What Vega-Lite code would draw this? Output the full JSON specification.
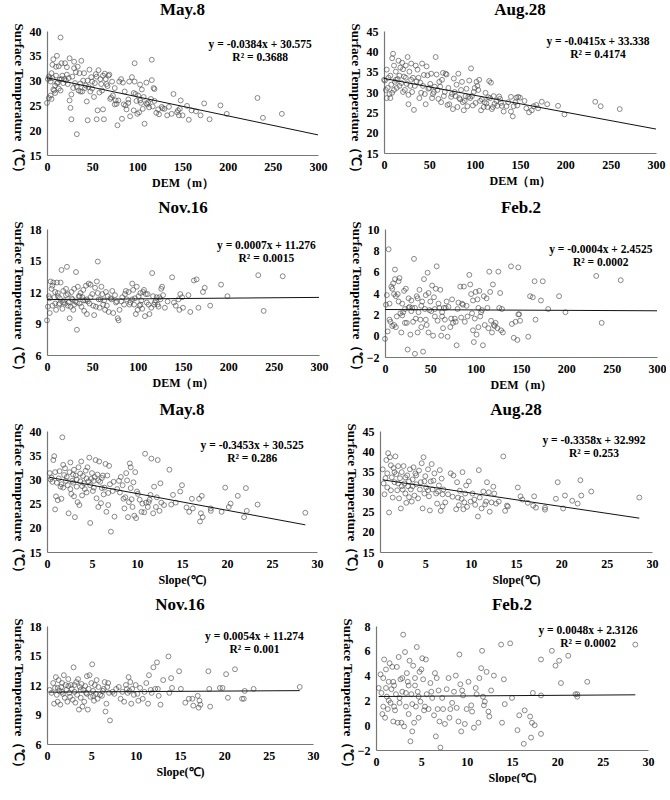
{
"$schema": "https://vega.github.io/schema/vega-lite/v6.json",
"padding": {"left": 11, "top": 1, "right": 0, "bottom": 0},
"spacing": 11,
"datasets": {
"p1": [{"x":15,"y":38.7},{"x":33,"y":19.2},{"x":0,"y":25.5},{"x":2,"y":26.5},{"x":5,"y":26.3},{"x":45,"y":22},{"x":27,"y":22.2},{"x":55,"y":22.2},{"x":63,"y":22.2},{"x":78,"y":21},{"x":83,"y":22.3},{"x":108,"y":21.3},{"x":97,"y":33.5},{"x":116,"y":34.2},{"x":116,"y":30.1},{"x":118,"y":28.5},{"x":119,"y":28.3},{"x":233,"y":26.5},{"x":239,"y":22.5},{"x":260,"y":23.3},{"x":192,"y":25},{"x":199,"y":23.3},{"x":180,"y":22.2},{"x":174,"y":25.4},{"x":170,"y":23},{"x":165,"y":23.8},{"x":160,"y":24},{"x":157,"y":22.1},{"x":155,"y":24.9},{"x":148,"y":26},{"x":146,"y":23},{"x":145,"y":24},{"x":144,"y":23.6},{"x":140,"y":27.3},{"x":138,"y":23.3},{"x":133,"y":23},{"x":128,"y":24.4},{"x":127,"y":24.7},{"x":124,"y":23.2},{"x":121,"y":23.5},{"x":119,"y":25.9},{"x":115,"y":26.3},{"x":113,"y":24.6},{"x":110,"y":25.4},{"x":106,"y":24.3},{"x":104,"y":25.5},{"x":102,"y":23.6},{"x":100,"y":23.3},{"x":101,"y":27},{"x":103,"y":29.2},{"x":98,"y":27.3},{"x":96,"y":27.5},{"x":94,"y":30.7},{"x":97,"y":29.8},{"x":92,"y":22.8},{"x":90,"y":26.2},{"x":88,"y":24.2},{"x":87,"y":25},{"x":86,"y":27.8},{"x":84,"y":29.6},{"x":82,"y":30.3},{"x":80,"y":29.8},{"x":79,"y":26},{"x":76,"y":26},{"x":75,"y":25.2},{"x":73,"y":27},{"x":70,"y":26.3},{"x":72,"y":29.8},{"x":68,"y":31},{"x":66,"y":29.3},{"x":64,"y":31.4},{"x":62,"y":31},{"x":60,"y":29.3},{"x":58,"y":27.6},{"x":57,"y":32.1},{"x":55,"y":30.8},{"x":53,"y":29.5},{"x":52,"y":26.7},{"x":50,"y":29.8},{"x":48,"y":27.8},{"x":47,"y":32.2},{"x":45,"y":30},{"x":44,"y":25.8},{"x":42,"y":28.5},{"x":40,"y":30},{"x":39,"y":27.8},{"x":38,"y":34},{"x":36,"y":31.5},{"x":35,"y":28},{"x":34,"y":32.8},{"x":32,"y":31.7},{"x":31,"y":29.5},{"x":30,"y":33.8},{"x":29,"y":28.5},{"x":27,"y":27.2},{"x":26,"y":24.5},{"x":25,"y":26},{"x":25,"y":34.5},{"x":24,"y":30.5},{"x":22,"y":32.7},{"x":21,"y":30},{"x":20,"y":33.5},{"x":18,"y":29.5},{"x":17,"y":31},{"x":16,"y":33.5},{"x":15,"y":28},{"x":14,"y":30.2},{"x":13,"y":32.9},{"x":12,"y":29.6},{"x":11,"y":35},{"x":10,"y":31},{"x":9,"y":27.5},{"x":8,"y":28},{"x":7,"y":34.3},{"x":6,"y":30.5},{"x":5,"y":31.5},{"x":4,"y":29.8},{"x":3,"y":30.5},{"x":2,"y":30.8},{"x":1,"y":30.3},{"x":7,"y":28.2},{"x":9,"y":29},{"x":11,"y":29.5},{"x":13,"y":28.4},{"x":19,"y":30.3},{"x":23,"y":29.3},{"x":28,"y":30.8},{"x":33,"y":28.7},{"x":37,"y":29.4},{"x":41,"y":31.5},{"x":46,"y":28.7},{"x":49,"y":30.7},{"x":54,"y":31.3},{"x":59,"y":30.3},{"x":61,"y":28},{"x":65,"y":30.3},{"x":67,"y":28.9},{"x":69,"y":31.2},{"x":71,"y":26.6},{"x":77,"y":25.3},{"x":56,"y":24},{"x":62,"y":24.2},{"x":43,"y":29},{"x":50,"y":28.4},{"x":37,"y":27.8},{"x":30,"y":32.5},{"x":22,"y":31.2},{"x":16,"y":30.3},{"x":10,"y":32.8},{"x":6,"y":33.2},{"x":4,"y":27},{"x":96,"y":24},{"x":105,"y":28.2},{"x":107,"y":26.7},{"x":111,"y":25.2},{"x":123,"y":24.2},{"x":130,"y":24.3},{"x":135,"y":24.7},{"x":150,"y":23},{"x":147,"y":24.3},{"x":112,"y":25.6},{"x":99,"y":25.9},{"x":85,"y":25.2},{"x":90,"y":25.5},{"x":117,"y":24.8},{"x":91,"y":29.8},{"x":103,"y":26},{"x":75,"y":28.5},{"x":110,"y":29.6}],
"p2": [{"x":233,"y":27.6},{"x":239,"y":26.5},{"x":260,"y":25.8},{"x":199,"y":24.5},{"x":192,"y":26.6},{"x":180,"y":27},{"x":174,"y":27.6},{"x":170,"y":26},{"x":165,"y":26.5},{"x":160,"y":25},{"x":157,"y":26},{"x":155,"y":27.8},{"x":148,"y":28.8},{"x":147,"y":26.7},{"x":145,"y":27.5},{"x":143,"y":26.5},{"x":142,"y":24},{"x":140,"y":25.2},{"x":140,"y":28.8},{"x":135,"y":26.5},{"x":132,"y":25.2},{"x":130,"y":26.6},{"x":128,"y":28.3},{"x":127,"y":28.9},{"x":124,"y":27.8},{"x":122,"y":27.1},{"x":120,"y":26.3},{"x":118,"y":32.3},{"x":116,"y":32.7},{"x":117,"y":28.5},{"x":115,"y":28.7},{"x":113,"y":27.2},{"x":112,"y":29.8},{"x":110,"y":26.3},{"x":107,"y":25.5},{"x":106,"y":27.8},{"x":105,"y":33},{"x":104,"y":30.5},{"x":103,"y":31.5},{"x":102,"y":32.5},{"x":101,"y":27.3},{"x":100,"y":31},{"x":99,"y":30},{"x":98,"y":26.7},{"x":97,"y":29},{"x":96,"y":35.8},{"x":95,"y":28.5},{"x":93,"y":28.8},{"x":92,"y":26.5},{"x":90,"y":29},{"x":88,"y":25.5},{"x":87,"y":27.5},{"x":85,"y":30.5},{"x":83,"y":28.5},{"x":82,"y":34.5},{"x":80,"y":31.8},{"x":79,"y":29},{"x":77,"y":33.3},{"x":76,"y":25.8},{"x":74,"y":28.8},{"x":72,"y":27},{"x":70,"y":26.8},{"x":68,"y":34.5},{"x":67,"y":30},{"x":65,"y":34.7},{"x":64,"y":33},{"x":63,"y":27.5},{"x":62,"y":31.3},{"x":60,"y":28.3},{"x":58,"y":34.3},{"x":57,"y":38.6},{"x":55,"y":30},{"x":53,"y":28.5},{"x":52,"y":34.5},{"x":50,"y":31},{"x":48,"y":34.1},{"x":47,"y":36.3},{"x":45,"y":29.5},{"x":43,"y":31.5},{"x":42,"y":37},{"x":40,"y":32.3},{"x":39,"y":28.5},{"x":37,"y":35.5},{"x":36,"y":32.6},{"x":35,"y":36.5},{"x":33,"y":25.6},{"x":32,"y":33.5},{"x":31,"y":30},{"x":30,"y":37},{"x":29,"y":31.5},{"x":28,"y":35},{"x":27,"y":27},{"x":26,"y":38.6},{"x":25,"y":32},{"x":24,"y":36.5},{"x":23,"y":30.5},{"x":22,"y":33.8},{"x":21,"y":35.6},{"x":20,"y":37.2},{"x":19,"y":32.2},{"x":18,"y":36},{"x":17,"y":34},{"x":16,"y":37.7},{"x":15,"y":33.2},{"x":14,"y":31},{"x":13,"y":35},{"x":12,"y":32.5},{"x":11,"y":36.5},{"x":10,"y":39.4},{"x":9,"y":38.3},{"x":8,"y":31.8},{"x":7,"y":34},{"x":6,"y":29.5},{"x":5,"y":33.5},{"x":4,"y":31},{"x":3,"y":35.5},{"x":2,"y":30.5},{"x":1,"y":32.8},{"x":0,"y":33},{"x":3,"y":28.5},{"x":7,"y":28.5},{"x":9,"y":29.8},{"x":11,"y":30.5},{"x":13,"y":33},{"x":17,"y":31.5},{"x":21,"y":30},{"x":24,"y":33.5},{"x":27,"y":29.3},{"x":30,"y":33},{"x":34,"y":31.5},{"x":38,"y":33.5},{"x":41,"y":29.8},{"x":44,"y":34.2},{"x":46,"y":27},{"x":49,"y":30.8},{"x":51,"y":32},{"x":54,"y":29.5},{"x":56,"y":31.3},{"x":59,"y":30.5},{"x":61,"y":32.5},{"x":66,"y":29},{"x":69,"y":34.3},{"x":71,"y":31},{"x":75,"y":29.5},{"x":78,"y":30},{"x":81,"y":26.3},{"x":84,"y":28.2},{"x":86,"y":32.5},{"x":89,"y":27.8},{"x":91,"y":30.8},{"x":94,"y":32.8},{"x":108,"y":28.2},{"x":111,"y":27.5},{"x":114,"y":26.3},{"x":119,"y":25.8},{"x":121,"y":29},{"x":125,"y":26.6},{"x":129,"y":27.3},{"x":137,"y":27.5},{"x":146,"y":28.6},{"x":150,"y":28.6},{"x":163,"y":25.5},{"x":168,"y":26.8}],
"p3": [{"x":0,"y":9.3},{"x":1,"y":10.6},{"x":2,"y":11.6},{"x":3,"y":10},{"x":4,"y":13},{"x":5,"y":12.3},{"x":6,"y":10.7},{"x":7,"y":12.9},{"x":8,"y":11.5},{"x":9,"y":12},{"x":10,"y":10.3},{"x":11,"y":12.9},{"x":12,"y":11.6},{"x":13,"y":10.8},{"x":14,"y":11.4},{"x":15,"y":12.9},{"x":16,"y":14.1},{"x":17,"y":10.4},{"x":18,"y":12.1},{"x":19,"y":11.2},{"x":20,"y":10.9},{"x":21,"y":11.7},{"x":22,"y":14.4},{"x":23,"y":11.8},{"x":24,"y":11},{"x":25,"y":9.5},{"x":26,"y":10.6},{"x":27,"y":12},{"x":28,"y":11.3},{"x":29,"y":10.3},{"x":30,"y":10.8},{"x":31,"y":11.1},{"x":32,"y":13.9},{"x":33,"y":8.4},{"x":34,"y":12.5},{"x":35,"y":11.6},{"x":36,"y":10.9},{"x":37,"y":11.9},{"x":38,"y":10.6},{"x":39,"y":11.5},{"x":40,"y":12.2},{"x":41,"y":10.2},{"x":42,"y":11.2},{"x":43,"y":12.6},{"x":44,"y":9.9},{"x":45,"y":11.1},{"x":46,"y":12.8},{"x":47,"y":10.9},{"x":48,"y":11.5},{"x":50,"y":11.8},{"x":52,"y":9.8},{"x":53,"y":12.4},{"x":54,"y":10.6},{"x":55,"y":13},{"x":56,"y":14.9},{"x":57,"y":11.3},{"x":58,"y":10.5},{"x":60,"y":12.5},{"x":61,"y":11.8},{"x":62,"y":10.8},{"x":63,"y":11.2},{"x":64,"y":10.3},{"x":65,"y":12},{"x":67,"y":11.6},{"x":68,"y":10.1},{"x":70,"y":11.4},{"x":72,"y":12.1},{"x":73,"y":10},{"x":75,"y":11.7},{"x":76,"y":11},{"x":78,"y":9.5},{"x":79,"y":9.3},{"x":80,"y":10.3},{"x":82,"y":11.1},{"x":83,"y":11.5},{"x":85,"y":10.8},{"x":87,"y":12.1},{"x":88,"y":11.3},{"x":90,"y":12},{"x":92,"y":11},{"x":94,"y":12.8},{"x":95,"y":12.2},{"x":96,"y":10.8},{"x":97,"y":11.4},{"x":98,"y":9.9},{"x":99,"y":12.5},{"x":100,"y":10.3},{"x":101,"y":11.6},{"x":102,"y":10.7},{"x":103,"y":10.8},{"x":104,"y":11.2},{"x":105,"y":10.4},{"x":106,"y":12},{"x":107,"y":12.2},{"x":108,"y":9.7},{"x":109,"y":11.8},{"x":110,"y":11},{"x":112,"y":10.8},{"x":113,"y":9.9},{"x":115,"y":10.5},{"x":116,"y":13.8},{"x":117,"y":11.6},{"x":118,"y":10.8},{"x":119,"y":11},{"x":120,"y":11.2},{"x":122,"y":10.8},{"x":123,"y":10.6},{"x":125,"y":11.3},{"x":126,"y":12.3},{"x":127,"y":12.5},{"x":128,"y":11.7},{"x":130,"y":10.5},{"x":133,"y":11.1},{"x":138,"y":13.4},{"x":140,"y":11},{"x":142,"y":10.7},{"x":145,"y":11.3},{"x":146,"y":10.3},{"x":147,"y":11.8},{"x":149,"y":11.5},{"x":150,"y":10.5},{"x":156,"y":11.7},{"x":158,"y":10.1},{"x":162,"y":13.1},{"x":165,"y":13.2},{"x":167,"y":10.5},{"x":172,"y":12},{"x":174,"y":12.4},{"x":180,"y":10.7},{"x":192,"y":12.7},{"x":199,"y":11.6},{"x":233,"y":13.6},{"x":239,"y":10.2},{"x":260,"y":13.5},{"x":3,"y":11.4},{"x":6,"y":12.6},{"x":9,"y":10.9},{"x":12,"y":11.9},{"x":14,"y":10.9},{"x":18,"y":11},{"x":21,"y":12.3},{"x":23,"y":10.7},{"x":27,"y":11.4},{"x":30,"y":12.3},{"x":33,"y":11},{"x":36,"y":11.6},{"x":40,"y":11.2},{"x":44,"y":11.3},{"x":48,"y":12.7},{"x":51,"y":10.7},{"x":56,"y":11.9},{"x":59,"y":11.3},{"x":66,"y":10.7},{"x":71,"y":11.3},{"x":77,"y":11.1},{"x":86,"y":11.8},{"x":91,"y":10.8},{"x":94,"y":11.3},{"x":103,"y":11.9},{"x":111,"y":11.8},{"x":121,"y":11.5},{"x":124,"y":11.5}],
"p4": [{"x":0,"y":-0.3},{"x":1,"y":2.9},{"x":2,"y":3.8},{"x":3,"y":0.4},{"x":4,"y":8.1},{"x":5,"y":3},{"x":6,"y":1.3},{"x":7,"y":4.6},{"x":8,"y":0.9},{"x":9,"y":4.9},{"x":10,"y":3.9},{"x":11,"y":5.3},{"x":11,"y":6.2},{"x":12,"y":0.8},{"x":13,"y":1.8},{"x":14,"y":3.9},{"x":15,"y":5.1},{"x":16,"y":5.4},{"x":17,"y":2.1},{"x":18,"y":0.3},{"x":19,"y":3},{"x":20,"y":2.2},{"x":21,"y":4.2},{"x":22,"y":2.5},{"x":23,"y":4.4},{"x":24,"y":1.2},{"x":25,"y":-1.3},{"x":26,"y":3.5},{"x":27,"y":2.7},{"x":28,"y":0.1},{"x":29,"y":3.3},{"x":30,"y":2.6},{"x":31,"y":1.3},{"x":32,"y":7.2},{"x":33,"y":-1.7},{"x":34,"y":1.6},{"x":35,"y":3.7},{"x":36,"y":0.3},{"x":37,"y":2.2},{"x":38,"y":4.3},{"x":39,"y":1.5},{"x":40,"y":0.8},{"x":41,"y":3.2},{"x":42,"y":-1.5},{"x":43,"y":5.3},{"x":44,"y":2.5},{"x":45,"y":3.8},{"x":46,"y":1},{"x":47,"y":5.9},{"x":48,"y":0.3},{"x":49,"y":2.4},{"x":50,"y":3.2},{"x":52,"y":4.7},{"x":53,"y":0},{"x":54,"y":3.6},{"x":55,"y":1.8},{"x":56,"y":4.4},{"x":57,"y":6.5},{"x":58,"y":1.4},{"x":60,"y":2.6},{"x":61,"y":4.3},{"x":62,"y":0},{"x":63,"y":2.2},{"x":64,"y":0.7},{"x":65,"y":2.6},{"x":66,"y":1.5},{"x":68,"y":3.2},{"x":69,"y":-0.1},{"x":70,"y":2.7},{"x":72,"y":0.8},{"x":74,"y":3.4},{"x":75,"y":1.2},{"x":77,"y":1.6},{"x":79,"y":-0.9},{"x":80,"y":2.5},{"x":81,"y":3.1},{"x":83,"y":4.6},{"x":84,"y":1.7},{"x":86,"y":2.9},{"x":87,"y":4.6},{"x":88,"y":1.3},{"x":90,"y":2.8},{"x":93,"y":5.7},{"x":94,"y":4.8},{"x":95,"y":3.9},{"x":96,"y":2.1},{"x":97,"y":0.5},{"x":98,"y":-0.6},{"x":99,"y":1.6},{"x":100,"y":4.1},{"x":101,"y":0.1},{"x":102,"y":3.4},{"x":103,"y":2.6},{"x":104,"y":4.2},{"x":105,"y":1.8},{"x":107,"y":2.4},{"x":108,"y":-0.9},{"x":109,"y":3.7},{"x":110,"y":1},{"x":112,"y":3.5},{"x":114,"y":0.7},{"x":115,"y":6},{"x":116,"y":4.1},{"x":117,"y":1.4},{"x":118,"y":0.3},{"x":119,"y":4.8},{"x":120,"y":1},{"x":121,"y":0.9},{"x":122,"y":1.2},{"x":125,"y":6},{"x":126,"y":2.6},{"x":127,"y":4},{"x":128,"y":0.5},{"x":130,"y":0.3},{"x":139,"y":6.5},{"x":140,"y":1.1},{"x":142,"y":-0.2},{"x":144,"y":1.3},{"x":146,"y":-0.4},{"x":147,"y":2},{"x":147,"y":6.4},{"x":148,"y":2},{"x":149,"y":1.4},{"x":158,"y":-0.1},{"x":160,"y":3.7},{"x":163,"y":3.6},{"x":165,"y":5.1},{"x":166,"y":1.5},{"x":172,"y":3.3},{"x":174,"y":5.1},{"x":180,"y":2.5},{"x":192,"y":3.7},{"x":199,"y":2.2},{"x":233,"y":5.6},{"x":239,"y":1.2},{"x":260,"y":5.2},{"x":5,"y":1.5},{"x":8,"y":4.4},{"x":10,"y":1},{"x":12,"y":3.7},{"x":15,"y":3.2},{"x":19,"y":1.9},{"x":22,"y":1.2},{"x":26,"y":2.6},{"x":29,"y":2.3},{"x":33,"y":2.6},{"x":36,"y":3.5},{"x":40,"y":2.8},{"x":45,"y":1.5},{"x":48,"y":4},{"x":51,"y":2.3},{"x":55,"y":2.5},{"x":59,"y":3},{"x":63,"y":1.8},{"x":67,"y":2.6},{"x":73,"y":1.6},{"x":78,"y":1.3},{"x":85,"y":3},{"x":91,"y":1.8},{"x":97,"y":3.3},{"x":103,"y":0.8},{"x":106,"y":2.2},{"x":113,"y":2.6},{"x":124,"y":0.7},{"x":129,"y":2.5}],
"p5": [{"x":0.3,"y":31.3},{"x":0.5,"y":30.4},{"x":0.7,"y":34},{"x":0.8,"y":34.8},{"x":0.9,"y":23.8},{"x":1,"y":26.5},{"x":1.1,"y":29.3},{"x":1.2,"y":25.7},{"x":1.4,"y":31.7},{"x":1.5,"y":28.5},{"x":1.6,"y":26},{"x":1.7,"y":38.7},{"x":1.8,"y":33},{"x":1.9,"y":30.9},{"x":2,"y":32.3},{"x":2.1,"y":29.7},{"x":2.3,"y":28.8},{"x":2.4,"y":23},{"x":2.5,"y":31.5},{"x":2.6,"y":33.5},{"x":2.7,"y":27},{"x":2.8,"y":29.7},{"x":2.9,"y":31},{"x":3,"y":26.5},{"x":3.1,"y":22.2},{"x":3.2,"y":30.8},{"x":3.3,"y":28.5},{"x":3.4,"y":25.3},{"x":3.5,"y":32.5},{"x":3.6,"y":24.7},{"x":3.7,"y":29.6},{"x":3.8,"y":33.7},{"x":3.9,"y":26.7},{"x":4,"y":30.7},{"x":4.2,"y":28},{"x":4.3,"y":31.8},{"x":4.4,"y":27.3},{"x":4.5,"y":32.5},{"x":4.6,"y":29.6},{"x":4.7,"y":34.5},{"x":4.8,"y":21},{"x":4.9,"y":30.1},{"x":5,"y":31.3},{"x":5.1,"y":27.6},{"x":5.2,"y":29.7},{"x":5.4,"y":34},{"x":5.5,"y":26.1},{"x":5.6,"y":31},{"x":5.7,"y":24.3},{"x":5.8,"y":33.7},{"x":5.9,"y":29.5},{"x":6,"y":25.1},{"x":6.1,"y":28.2},{"x":6.2,"y":30.8},{"x":6.3,"y":26.9},{"x":6.5,"y":33.2},{"x":6.6,"y":23.3},{"x":6.7,"y":30.8},{"x":6.8,"y":24.7},{"x":6.9,"y":32.8},{"x":7,"y":29},{"x":7.1,"y":19.2},{"x":7.3,"y":27.6},{"x":7.5,"y":22.3},{"x":7.8,"y":28},{"x":8,"y":29.7},{"x":8.2,"y":30.5},{"x":8.4,"y":28.8},{"x":8.6,"y":24},{"x":8.7,"y":26.3},{"x":8.8,"y":31.3},{"x":8.9,"y":29.8},{"x":9,"y":22.2},{"x":9.1,"y":25.3},{"x":9.2,"y":33.3},{"x":9.3,"y":32.5},{"x":9.4,"y":25.9},{"x":9.5,"y":24.3},{"x":9.6,"y":29.4},{"x":9.7,"y":22.5},{"x":9.8,"y":31.5},{"x":9.9,"y":22},{"x":10,"y":27.5},{"x":10.3,"y":25.8},{"x":10.5,"y":23.3},{"x":10.8,"y":23.2},{"x":10.9,"y":35.3},{"x":11,"y":25.2},{"x":11.2,"y":24.3},{"x":11.4,"y":25.8},{"x":11.5,"y":26.8},{"x":11.6,"y":34.3},{"x":11.8,"y":23},{"x":11.9,"y":28.5},{"x":12.1,"y":24.3},{"x":12.3,"y":34},{"x":12.5,"y":23.5},{"x":12.6,"y":29.2},{"x":12.7,"y":25.2},{"x":13,"y":24.7},{"x":13.6,"y":32},{"x":13.8,"y":24.8},{"x":14,"y":26.8},{"x":14.3,"y":25.2},{"x":14.8,"y":27.5},{"x":15,"y":28.8},{"x":15.5,"y":24.2},{"x":15.8,"y":23.3},{"x":16.1,"y":26},{"x":16.2,"y":24},{"x":16.9,"y":26},{"x":17,"y":21.3},{"x":17.1,"y":23},{"x":17.2,"y":26.6},{"x":17.3,"y":22.2},{"x":18.2,"y":24},{"x":18.2,"y":23.5},{"x":19.4,"y":23.3},{"x":19.8,"y":28.3},{"x":20.2,"y":24.3},{"x":20.4,"y":25},{"x":21.2,"y":26.6},{"x":21.9,"y":22.2},{"x":22.1,"y":28.2},{"x":22.2,"y":23.5},{"x":23.4,"y":24.8},{"x":28.7,"y":23.1},{"x":0.6,"y":29.5},{"x":0.9,"y":31.5},{"x":1.3,"y":30.2},{"x":1.6,"y":29},{"x":2.2,"y":30.5},{"x":2.6,"y":28},{"x":3,"y":32},{"x":3.3,"y":30},{"x":3.7,"y":31.2},{"x":4.1,"y":29.2},{"x":4.4,"y":30.2},{"x":4.8,"y":28.8},{"x":5.3,"y":30.5},{"x":5.7,"y":29.8},{"x":6.1,"y":30.3},{"x":6.4,"y":28.3},{"x":7.4,"y":29.5},{"x":8.1,"y":27.3},{"x":8.5,"y":26},{"x":9.3,"y":28.2},{"x":10.1,"y":27},{"x":10.6,"y":25},{"x":11.3,"y":25.3},{"x":12.2,"y":26.3},{"x":0.4,"y":30},{"x":1.8,"y":28.3},{"x":2.9,"y":29.3},{"x":3.9,"y":28.6},{"x":5.2,"y":28.3},{"x":6.8,"y":27.2}],
"p6": [{"x":0.3,"y":35.5},{"x":0.5,"y":29.3},{"x":0.6,"y":33.3},{"x":0.7,"y":37.8},{"x":0.8,"y":31},{"x":0.9,"y":39.5},{"x":1,"y":24.8},{"x":1.1,"y":38.5},{"x":1.2,"y":30.3},{"x":1.3,"y":33.5},{"x":1.4,"y":28.5},{"x":1.5,"y":35.8},{"x":1.6,"y":32.3},{"x":1.7,"y":38.7},{"x":1.8,"y":34.3},{"x":1.9,"y":30.3},{"x":2,"y":36.3},{"x":2.1,"y":28.3},{"x":2.2,"y":33.3},{"x":2.3,"y":25.8},{"x":2.4,"y":34.8},{"x":2.5,"y":30.5},{"x":2.6,"y":36.3},{"x":2.7,"y":32},{"x":2.8,"y":29.5},{"x":2.9,"y":27.2},{"x":3,"y":34},{"x":3.1,"y":31.3},{"x":3.2,"y":28.6},{"x":3.3,"y":35.5},{"x":3.4,"y":30.5},{"x":3.5,"y":27.5},{"x":3.6,"y":33},{"x":3.7,"y":36},{"x":3.8,"y":29},{"x":3.9,"y":34.5},{"x":4,"y":31.8},{"x":4.2,"y":28.3},{"x":4.3,"y":35.2},{"x":4.5,"y":32.3},{"x":4.6,"y":37},{"x":4.7,"y":25.8},{"x":4.8,"y":38.5},{"x":4.9,"y":29.5},{"x":5,"y":33.8},{"x":5.1,"y":31},{"x":5.3,"y":35.5},{"x":5.4,"y":28.8},{"x":5.5,"y":25.3},{"x":5.6,"y":32.5},{"x":5.7,"y":36.8},{"x":5.8,"y":30.5},{"x":6,"y":34.5},{"x":6.2,"y":29.5},{"x":6.3,"y":27},{"x":6.5,"y":31.5},{"x":6.6,"y":35.3},{"x":6.7,"y":25.2},{"x":6.8,"y":33.2},{"x":6.9,"y":26.3},{"x":7,"y":30.5},{"x":7.2,"y":27.3},{"x":7.5,"y":29.3},{"x":7.8,"y":34.5},{"x":8,"y":28.7},{"x":8.1,"y":34},{"x":8.4,"y":25.6},{"x":8.5,"y":32.3},{"x":8.7,"y":26.6},{"x":8.8,"y":30.2},{"x":9,"y":28.2},{"x":9.1,"y":34.8},{"x":9.2,"y":25.6},{"x":9.4,"y":29.5},{"x":9.5,"y":31.5},{"x":9.6,"y":26.2},{"x":9.8,"y":32.5},{"x":10,"y":27.5},{"x":10.2,"y":29.5},{"x":10.5,"y":26.7},{"x":10.8,"y":23.8},{"x":10.9,"y":35.3},{"x":11,"y":28.5},{"x":11.2,"y":25.8},{"x":11.4,"y":30},{"x":11.6,"y":26.8},{"x":11.8,"y":32.3},{"x":12,"y":29.8},{"x":12.1,"y":25},{"x":12.3,"y":27.3},{"x":12.5,"y":31.2},{"x":12.6,"y":29.5},{"x":12.8,"y":27},{"x":13.6,"y":38.7},{"x":13.8,"y":25.2},{"x":14,"y":26.5},{"x":15.2,"y":31},{"x":15.5,"y":28.8},{"x":15.7,"y":28},{"x":16.3,"y":27.2},{"x":16.9,"y":26.5},{"x":17,"y":28.8},{"x":17.2,"y":26},{"x":18.2,"y":25.5},{"x":18.2,"y":26},{"x":19.4,"y":28.2},{"x":19.6,"y":32.3},{"x":20.2,"y":25.8},{"x":20.4,"y":29},{"x":21.2,"y":27.7},{"x":21.8,"y":27},{"x":22.1,"y":32.8},{"x":22.2,"y":29},{"x":23.3,"y":30},{"x":28.6,"y":28.5},{"x":0.4,"y":32},{"x":0.8,"y":34.5},{"x":1.2,"y":36.5},{"x":1.6,"y":34.8},{"x":2,"y":32},{"x":2.4,"y":31.3},{"x":2.8,"y":33.5},{"x":3.2,"y":32.5},{"x":3.6,"y":31.3},{"x":4,"y":34},{"x":4.4,"y":30.5},{"x":4.9,"y":32.5},{"x":5.3,"y":30.3},{"x":5.9,"y":32.7},{"x":6.4,"y":30},{"x":6.9,"y":29.3},{"x":8.6,"y":28.5},{"x":9.3,"y":27.3},{"x":10.4,"y":28},{"x":11.7,"y":27.5},{"x":13.1,"y":27.5},{"x":14.1,"y":26.3}],
"p7": [{"x":0.3,"y":11.5},{"x":0.5,"y":11.2},{"x":0.7,"y":12.2},{"x":0.8,"y":10.1},{"x":0.9,"y":11.7},{"x":1,"y":12.8},{"x":1.1,"y":11},{"x":1.2,"y":10.3},{"x":1.3,"y":12.5},{"x":1.4,"y":11.4},{"x":1.5,"y":10},{"x":1.6,"y":11.8},{"x":1.7,"y":12.2},{"x":1.8,"y":11.1},{"x":1.9,"y":13},{"x":2,"y":10.7},{"x":2.1,"y":12},{"x":2.2,"y":11.5},{"x":2.3,"y":10.3},{"x":2.4,"y":12.6},{"x":2.5,"y":11.2},{"x":2.6,"y":10.8},{"x":2.7,"y":12},{"x":2.8,"y":11.6},{"x":2.9,"y":10.5},{"x":3,"y":13.8},{"x":3.1,"y":11.3},{"x":3.2,"y":10.2},{"x":3.3,"y":12.3},{"x":3.4,"y":11},{"x":3.5,"y":12.6},{"x":3.6,"y":9.5},{"x":3.7,"y":11.8},{"x":3.8,"y":10.7},{"x":3.9,"y":12.1},{"x":4,"y":9.8},{"x":4.1,"y":11.5},{"x":4.2,"y":10.3},{"x":4.3,"y":11.9},{"x":4.4,"y":11.2},{"x":4.5,"y":12.9},{"x":4.6,"y":9.5},{"x":4.7,"y":11.6},{"x":4.8,"y":13},{"x":4.9,"y":10.8},{"x":5,"y":12.2},{"x":5.1,"y":14.1},{"x":5.2,"y":11.4},{"x":5.3,"y":10.4},{"x":5.4,"y":12},{"x":5.5,"y":11.1},{"x":5.6,"y":12.5},{"x":5.7,"y":10.6},{"x":5.8,"y":11.8},{"x":6,"y":11},{"x":6.2,"y":10.9},{"x":6.4,"y":11.6},{"x":6.5,"y":12.3},{"x":6.6,"y":9.3},{"x":6.7,"y":10.1},{"x":6.8,"y":11.8},{"x":6.9,"y":12.2},{"x":7,"y":11.2},{"x":7.1,"y":8.4},{"x":7.4,"y":11.3},{"x":7.8,"y":11.6},{"x":8.1,"y":11.8},{"x":8.3,"y":10.6},{"x":8.5,"y":11.3},{"x":8.7,"y":10.3},{"x":8.9,"y":12},{"x":9,"y":11.6},{"x":9.1,"y":11.2},{"x":9.2,"y":12.8},{"x":9.4,"y":12.3},{"x":9.5,"y":10.1},{"x":9.6,"y":11.6},{"x":9.8,"y":11},{"x":10,"y":12},{"x":10.3,"y":10.4},{"x":10.5,"y":11.7},{"x":10.8,"y":10.6},{"x":11,"y":11.3},{"x":11.2,"y":12.2},{"x":11.4,"y":10.1},{"x":11.5,"y":13},{"x":11.7,"y":11.5},{"x":12,"y":13.8},{"x":12.2,"y":11.6},{"x":12.4,"y":14.3},{"x":12.6,"y":10.9},{"x":12.8,"y":10},{"x":13.1,"y":12.5},{"x":13.7,"y":14.9},{"x":13.8,"y":11.2},{"x":14,"y":12.7},{"x":14.1,"y":11.7},{"x":14.9,"y":13.4},{"x":15.1,"y":11.6},{"x":15.6,"y":10.2},{"x":16,"y":10.6},{"x":16.4,"y":10.6},{"x":16.5,"y":9.9},{"x":17,"y":10.9},{"x":17.1,"y":9.7},{"x":17.2,"y":10.4},{"x":17.3,"y":10},{"x":18.2,"y":13.4},{"x":18.3,"y":11.6},{"x":18.4,"y":9.8},{"x":19.5,"y":11.7},{"x":19.8,"y":11.7},{"x":20.2,"y":13.1},{"x":20.4,"y":10.7},{"x":21.2,"y":13.6},{"x":22,"y":10.6},{"x":22.2,"y":10.6},{"x":22.3,"y":11.4},{"x":23.3,"y":11.6},{"x":28.5,"y":11.8},{"x":1.2,"y":11.7},{"x":1.7,"y":11.3},{"x":2.4,"y":11.9},{"x":3.1,"y":12},{"x":3.8,"y":11.5},{"x":4.5,"y":11.1},{"x":5.2,"y":10.9},{"x":6.3,"y":11.4},{"x":7.6,"y":11.1},{"x":9.3,"y":11.4},{"x":10.2,"y":11.1},{"x":11.8,"y":11.2},{"x":12.5,"y":11.6}],
"p8": [{"x":0.3,"y":3},{"x":0.5,"y":4.1},{"x":0.6,"y":2.6},{"x":0.7,"y":0.9},{"x":0.8,"y":3.8},{"x":0.9,"y":5.3},{"x":1,"y":0.6},{"x":1.1,"y":4.5},{"x":1.2,"y":2.3},{"x":1.3,"y":1.3},{"x":1.4,"y":3.5},{"x":1.5,"y":5},{"x":1.6,"y":1.8},{"x":1.7,"y":2.9},{"x":1.8,"y":4.7},{"x":1.9,"y":0.3},{"x":2,"y":3.2},{"x":2.1,"y":1.2},{"x":2.2,"y":2.5},{"x":2.3,"y":4.7},{"x":2.4,"y":0.2},{"x":2.5,"y":5.5},{"x":2.6,"y":1.8},{"x":2.7,"y":3.7},{"x":2.8,"y":0.2},{"x":2.9,"y":2.7},{"x":3,"y":7.3},{"x":3.1,"y":-0.1},{"x":3.2,"y":5.9},{"x":3.3,"y":1.5},{"x":3.4,"y":4.2},{"x":3.5,"y":3.5},{"x":3.6,"y":0.9},{"x":3.7,"y":5.2},{"x":3.8,"y":-1.3},{"x":3.9,"y":2.5},{"x":4,"y":-0.5},{"x":4.1,"y":4.8},{"x":4.2,"y":0.2},{"x":4.3,"y":3.2},{"x":4.4,"y":1.5},{"x":4.5,"y":6.3},{"x":4.6,"y":2.7},{"x":4.7,"y":0.6},{"x":4.8,"y":4.3},{"x":4.9,"y":1.9},{"x":5,"y":4.5},{"x":5.1,"y":5.4},{"x":5.2,"y":3.7},{"x":5.3,"y":1.2},{"x":5.5,"y":5.3},{"x":5.6,"y":2.5},{"x":5.8,"y":1.3},{"x":6,"y":3.4},{"x":6.2,"y":2.2},{"x":6.4,"y":0.8},{"x":6.5,"y":4.2},{"x":6.6,"y":-0.9},{"x":6.7,"y":3.8},{"x":6.8,"y":1.3},{"x":6.9,"y":2.8},{"x":7,"y":0.3},{"x":7.1,"y":-1.8},{"x":7.4,"y":1.3},{"x":7.6,"y":0.1},{"x":7.8,"y":2.9},{"x":8,"y":3.8},{"x":8.1,"y":0.6},{"x":8.4,"y":1.8},{"x":8.6,"y":2.7},{"x":8.8,"y":4},{"x":8.9,"y":1.4},{"x":9.1,"y":0.3},{"x":9.2,"y":5.7},{"x":9.3,"y":3.3},{"x":9.4,"y":-0.5},{"x":9.6,"y":2.4},{"x":9.8,"y":0.1},{"x":10,"y":1.3},{"x":10.2,"y":3.5},{"x":10.5,"y":1.6},{"x":10.8,"y":-0.2},{"x":11,"y":3},{"x":11.1,"y":2.5},{"x":11.3,"y":0.2},{"x":11.4,"y":3.8},{"x":11.6,"y":4.6},{"x":11.7,"y":6},{"x":11.8,"y":2.3},{"x":12,"y":1.9},{"x":12.2,"y":4.3},{"x":12.4,"y":1.1},{"x":12.5,"y":0.7},{"x":12.7,"y":2.8},{"x":13,"y":4},{"x":13.8,"y":6.5},{"x":13.9,"y":0.2},{"x":14.1,"y":3.7},{"x":14.2,"y":1.7},{"x":14.8,"y":6.6},{"x":15,"y":2.2},{"x":15.6,"y":-0.4},{"x":15.8,"y":0.8},{"x":16.3,"y":-1.5},{"x":16.4,"y":1.2},{"x":17,"y":0.7},{"x":17.1,"y":-1},{"x":17.2,"y":0.2},{"x":17.3,"y":2.6},{"x":17.5,"y":0},{"x":18.2,"y":5.3},{"x":18.2,"y":-0.7},{"x":18.2,"y":2.4},{"x":19.4,"y":6},{"x":19.8,"y":4.8},{"x":20.2,"y":5.2},{"x":20.4,"y":3.4},{"x":21.2,"y":5.6},{"x":22,"y":2.5},{"x":22.2,"y":2.5},{"x":22.2,"y":2.3},{"x":23.3,"y":3.5},{"x":28.6,"y":6.5},{"x":0.8,"y":1.5},{"x":1.4,"y":2},{"x":2,"y":1.5},{"x":2.6,"y":2.2},{"x":3.3,"y":2.6},{"x":4,"y":1.7},{"x":4.7,"y":2.3},{"x":5.4,"y":1.5},{"x":6.1,"y":2.7},{"x":7.3,"y":2.2},{"x":8.2,"y":1.3},{"x":9.5,"y":2.8},{"x":10.6,"y":1.1},{"x":11.9,"y":1.6},{"x":1.1,"y":3},{"x":1.9,"y":3.5},{"x":2.9,"y":3.8},{"x":3.6,"y":3.2},{"x":4.3,"y":3.8}],
"l1": [{"x":0,"y":30.575},{"x":300,"y":19.055}],
"l2": [{"x":0,"y":33.338},{"x":300,"y":20.888}],
"l3": [{"x":0,"y":11.276},{"x":300,"y":11.486}],
"l4": [{"x":0,"y":2.4525},{"x":300,"y":2.3325}],
"l5": [{"x":0.3,"y":30.421},{"x":28.7,"y":20.615}],
"l6": [{"x":0.3,"y":32.891},{"x":28.6,"y":23.388}],
"l7": [{"x":0.3,"y":11.276},{"x":28.5,"y":11.428}],
"l8": [{"x":0.3,"y":2.314},{"x":28.6,"y":2.450}]
},
"vconcat": [
{"spacing": 21, "hconcat": [
{"title": "May.8", "width": 271, "height": 124, "layer": [
 {"data": {"name": "p1"}, "mark": {"type": "point", "shape": "circle", "size": 24, "strokeWidth": 0.9, "color": "#444", "filled": false},
  "encoding": {"x": {"field": "x", "type": "quantitative", "scale": {"domain": [0, 300], "nice": false}, "axis": {"values": [0,50,100,150,200,250,300], "tickCount": 20, "format": "d", "title": "DEM（m）"}},
               "y": {"field": "y", "type": "quantitative", "scale": {"domain": [15, 40], "nice": false, "zero": false}, "axis": {"values": [15,20,25,30,35,40], "tickCount": 20, "format": "d", "title": "Surface Temperature（℃）"}}}},
 {"data": {"name": "l1"}, "mark": {"type": "line", "color": "#111", "strokeWidth": 1}, "encoding": {"x": {"field": "x", "type": "quantitative"}, "y": {"field": "y", "type": "quantitative"}}},
 {"data": {"values": [{}]}, "mark": {"type": "text", "text": ["y = -0.0384x + 30.575", "R² = 0.3688"], "align": "center", "baseline": "top", "lineHeight": 13, "fontSize": 11.5, "fontWeight": "bold", "font": "Liberation Serif", "color": "black"},
  "encoding": {"x": {"datum": 236, "type": "quantitative"}, "y": {"datum": 38.4, "type": "quantitative"}}}
]},
{"title": "Aug.28", "width": 272, "height": 122, "layer": [
 {"data": {"name": "p2"}, "mark": {"type": "point", "shape": "circle", "size": 24, "strokeWidth": 0.9, "color": "#444", "filled": false},
  "encoding": {"x": {"field": "x", "type": "quantitative", "scale": {"domain": [0, 300], "nice": false}, "axis": {"values": [0,50,100,150,200,250,300], "tickCount": 20, "format": "d", "title": "DEM（m）"}},
               "y": {"field": "y", "type": "quantitative", "scale": {"domain": [15, 45], "nice": false, "zero": false}, "axis": {"values": [15,20,25,30,35,40,45], "tickCount": 20, "format": "d", "title": "Surface Temperature（℃）"}}}},
 {"data": {"name": "l2"}, "mark": {"type": "line", "color": "#111", "strokeWidth": 1}, "encoding": {"x": {"field": "x", "type": "quantitative"}, "y": {"field": "y", "type": "quantitative"}}},
 {"data": {"values": [{}]}, "mark": {"type": "text", "text": ["y = -0.0415x + 33.338", "R² = 0.4174"], "align": "center", "baseline": "top", "lineHeight": 13, "fontSize": 11.5, "fontWeight": "bold", "font": "Liberation Serif", "color": "black"},
  "encoding": {"x": {"datum": 236, "type": "quantitative"}, "y": {"datum": 43.8, "type": "quantitative"}}}
]}
]},
{"spacing": 21, "hconcat": [
{"title": "Nov.16", "width": 272, "height": 126, "layer": [
 {"data": {"name": "p3"}, "mark": {"type": "point", "shape": "circle", "size": 24, "strokeWidth": 0.9, "color": "#444", "filled": false},
  "encoding": {"x": {"field": "x", "type": "quantitative", "scale": {"domain": [0, 300], "nice": false}, "axis": {"values": [0,50,100,150,200,250,300], "tickCount": 20, "format": "d", "title": "DEM（m）"}},
               "y": {"field": "y", "type": "quantitative", "scale": {"domain": [6, 18], "nice": false, "zero": false}, "axis": {"values": [6,9,12,15,18], "tickCount": 20, "format": "d", "title": "Surface Temperature（℃）"}}}},
 {"data": {"name": "l3"}, "mark": {"type": "line", "color": "#111", "strokeWidth": 1}, "encoding": {"x": {"field": "x", "type": "quantitative"}, "y": {"field": "y", "type": "quantitative"}}},
 {"data": {"values": [{}]}, "mark": {"type": "text", "text": ["y = 0.0007x + 11.276", "R² = 0.0015"], "align": "center", "baseline": "top", "lineHeight": 13, "fontSize": 11.5, "fontWeight": "bold", "font": "Liberation Serif", "color": "black"},
  "encoding": {"x": {"datum": 242, "type": "quantitative"}, "y": {"datum": 16.96, "type": "quantitative"}}}
]},
{"title": "Feb.2", "width": 272, "height": 128, "layer": [
 {"data": {"name": "p4"}, "mark": {"type": "point", "shape": "circle", "size": 24, "strokeWidth": 0.9, "color": "#444", "filled": false},
  "encoding": {"x": {"field": "x", "type": "quantitative", "scale": {"domain": [0, 300], "nice": false}, "axis": {"values": [0,50,100,150,200,250,300], "tickCount": 20, "format": "d", "title": "DEM（m）"}},
               "y": {"field": "y", "type": "quantitative", "scale": {"domain": [-2, 10], "nice": false, "zero": false}, "axis": {"values": [-2,0,2,4,6,8,10], "tickCount": 20, "format": "d", "title": "Surface Temperature（℃）"}}}},
 {"data": {"name": "l4"}, "mark": {"type": "line", "color": "#111", "strokeWidth": 1}, "encoding": {"x": {"field": "x", "type": "quantitative"}, "y": {"field": "y", "type": "quantitative"}}},
 {"data": {"values": [{}]}, "mark": {"type": "text", "text": ["y = -0.0004x + 2.4525", "R² = 0.0002"], "align": "center", "baseline": "top", "lineHeight": 13, "fontSize": 11.5, "fontWeight": "bold", "font": "Liberation Serif", "color": "black"},
  "encoding": {"x": {"datum": 238, "type": "quantitative"}, "y": {"datum": 8.6, "type": "quantitative"}}}
]}
]},
{"spacing": 21, "hconcat": [
{"title": "May.8", "width": 270, "height": 121, "layer": [
 {"data": {"name": "p5"}, "mark": {"type": "point", "shape": "circle", "size": 24, "strokeWidth": 0.9, "color": "#444", "filled": false},
  "encoding": {"x": {"field": "x", "type": "quantitative", "scale": {"domain": [0, 30], "nice": false}, "axis": {"values": [0,5,10,15,20,25,30], "tickCount": 20, "format": "d", "title": "Slope(℃)"}},
               "y": {"field": "y", "type": "quantitative", "scale": {"domain": [15, 40], "nice": false, "zero": false}, "axis": {"values": [15,20,25,30,35,40], "tickCount": 20, "format": "d", "title": "Surface Temperature（℃）"}}}},
 {"data": {"name": "l5"}, "mark": {"type": "line", "color": "#111", "strokeWidth": 1}, "encoding": {"x": {"field": "x", "type": "quantitative"}, "y": {"field": "y", "type": "quantitative"}}},
 {"data": {"values": [{}]}, "mark": {"type": "text", "text": ["y = -0.3453x + 30.525", "R² = 0.286"], "align": "center", "baseline": "top", "lineHeight": 13, "fontSize": 11.5, "fontWeight": "bold", "font": "Liberation Serif", "color": "black"},
  "encoding": {"x": {"datum": 22.8, "type": "quantitative"}, "y": {"datum": 38.1, "type": "quantitative"}}}
]},
{"title": "Aug.28", "width": 272, "height": 121, "layer": [
 {"data": {"name": "p6"}, "mark": {"type": "point", "shape": "circle", "size": 24, "strokeWidth": 0.9, "color": "#444", "filled": false},
  "encoding": {"x": {"field": "x", "type": "quantitative", "scale": {"domain": [0, 30], "nice": false}, "axis": {"values": [0,5,10,15,20,25,30], "tickCount": 20, "format": "d", "title": "Slope(℃)"}},
               "y": {"field": "y", "type": "quantitative", "scale": {"domain": [15, 45], "nice": false, "zero": false}, "axis": {"values": [15,20,25,30,35,40,45], "tickCount": 20, "format": "d", "title": "Surface Temperature（℃）"}}}},
 {"data": {"name": "l6"}, "mark": {"type": "line", "color": "#111", "strokeWidth": 1}, "encoding": {"x": {"field": "x", "type": "quantitative"}, "y": {"field": "y", "type": "quantitative"}}},
 {"data": {"values": [{}]}, "mark": {"type": "text", "text": ["y = -0.3358x + 32.992", "R² = 0.253"], "align": "center", "baseline": "top", "lineHeight": 13, "fontSize": 11.5, "fontWeight": "bold", "font": "Liberation Serif", "color": "black"},
  "encoding": {"x": {"datum": 23.6, "type": "quantitative"}, "y": {"datum": 44, "type": "quantitative"}}}
]}
]},
{"spacing": 21, "hconcat": [
{"title": "Nov.16", "width": 266, "height": 118, "layer": [
 {"data": {"name": "p7"}, "mark": {"type": "point", "shape": "circle", "size": 24, "strokeWidth": 0.9, "color": "#444", "filled": false},
  "encoding": {"x": {"field": "x", "type": "quantitative", "scale": {"domain": [0, 30], "nice": false}, "axis": {"values": [0,5,10,15,20,25,30], "tickCount": 20, "format": "d", "title": "Slope(℃)"}},
               "y": {"field": "y", "type": "quantitative", "scale": {"domain": [6, 18], "nice": false, "zero": false}, "axis": {"values": [6,9,12,15,18], "tickCount": 20, "format": "d", "title": "Surface Temperature（℃）"}}}},
 {"data": {"name": "l7"}, "mark": {"type": "line", "color": "#111", "strokeWidth": 1}, "encoding": {"x": {"field": "x", "type": "quantitative"}, "y": {"field": "y", "type": "quantitative"}}},
 {"data": {"values": [{}]}, "mark": {"type": "text", "text": ["y = 0.0054x + 11.274", "R² = 0.001"], "align": "center", "baseline": "top", "lineHeight": 13, "fontSize": 11.5, "fontWeight": "bold", "font": "Liberation Serif", "color": "black"},
  "encoding": {"x": {"datum": 23.4, "type": "quantitative"}, "y": {"datum": 17.5, "type": "quantitative"}}}
]},
{"title": "Feb.2", "width": 272, "height": 124, "layer": [
 {"data": {"name": "p8"}, "mark": {"type": "point", "shape": "circle", "size": 24, "strokeWidth": 0.9, "color": "#444", "filled": false},
  "encoding": {"x": {"field": "x", "type": "quantitative", "scale": {"domain": [0, 30], "nice": false}, "axis": {"values": [0,5,10,15,20,25,30], "tickCount": 20, "format": "d", "title": "Slope(℃)"}},
               "y": {"field": "y", "type": "quantitative", "scale": {"domain": [-2, 8], "nice": false, "zero": false}, "axis": {"values": [-2,0,2,4,6,8], "tickCount": 20, "format": "d", "title": "Surface Temperature（℃）"}}}},
 {"data": {"name": "l8"}, "mark": {"type": "line", "color": "#111", "strokeWidth": 1}, "encoding": {"x": {"field": "x", "type": "quantitative"}, "y": {"field": "y", "type": "quantitative"}}},
 {"data": {"values": [{}]}, "mark": {"type": "text", "text": ["y = 0.0048x + 2.3126", "R² = 0.0002"], "align": "center", "baseline": "top", "lineHeight": 13, "fontSize": 11.5, "fontWeight": "bold", "font": "Liberation Serif", "color": "black"},
  "encoding": {"x": {"datum": 23.4, "type": "quantitative"}, "y": {"datum": 8.1, "type": "quantitative"}}}
]}
]}
],
"config": {
 "view": {"stroke": null},
 "font": "Liberation Serif",
 "axis": {"grid": false, "ticks": false, "labelOverlap": false, "domainColor": "#777", "domainWidth": 1.2, "labelFont": "Liberation Serif", "labelFontWeight": "bold", "labelFontSize": 12, "labelColor": "black", "labelPadding": 6, "titleFont": "Liberation Serif", "titleFontWeight": "bold", "titleFontSize": 12, "titleColor": "black"},
 "axisY": {"titleAngle": 90, "titleBaseline": "top", "titleAlign": "left", "titleX": -23, "titleY": -8, "titleFontSize": 13},
 "axisX": {"titlePadding": 5, "labelFlush": false},
 "title": {"font": "Liberation Serif", "fontSize": 17, "fontWeight": "bold", "color": "black", "offset": 4}
}
}
